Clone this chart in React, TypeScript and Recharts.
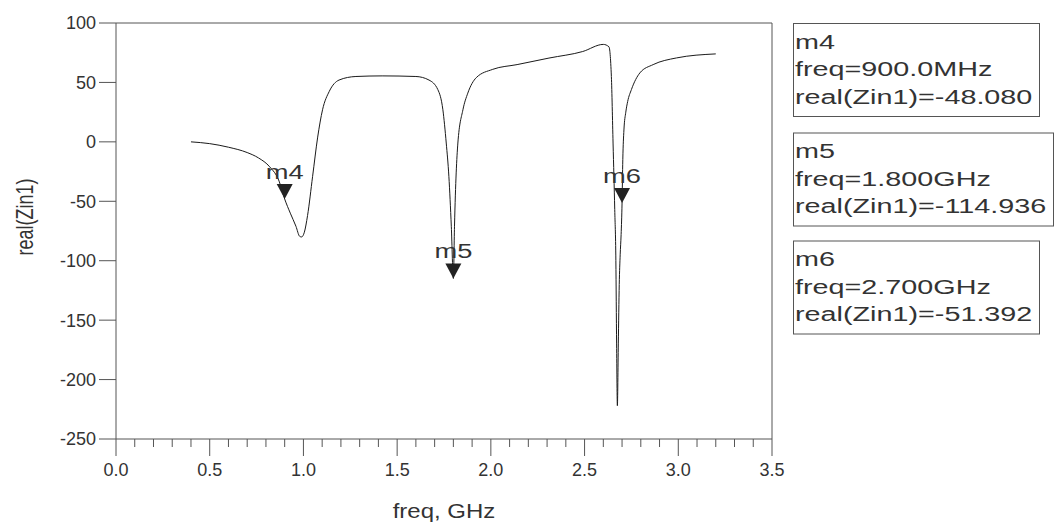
import { ComposedChart, Line, Scatter, XAxis, YAxis, ReferenceLine } from "recharts";

// real(Zin1) trace
const freqGHz = [
  0.4, 0.5, 0.6, 0.7, 0.76, 0.82, 0.87, 0.9, 0.93, 0.96, 0.98, 0.99, 1.005, 1.022,
  1.049, 1.076, 1.102, 1.138, 1.19, 1.28, 1.42, 1.6, 1.67, 1.717, 1.744, 1.762,
  1.776, 1.789, 1.8, 1.806, 1.824, 1.851, 1.877, 1.922, 2.01, 2.14, 2.31, 2.49,
  2.6, 2.63, 2.643, 2.652, 2.661, 2.667, 2.671, 2.675, 2.68, 2.685, 2.69, 2.695,
  2.7, 2.704, 2.71, 2.72, 2.73, 2.75, 2.795, 2.866, 2.99, 3.2,
];
const realZin1 = [
  0, -1.5, -4.5, -9, -13.5, -21, -33, -48.1, -60, -71, -79.5, -80, -76, -62,
  -29, 4, 27, 42.5, 52, 55, 55.5, 55, 52, 44, 27, -1,
  -29, -71, -114.9, -71, -1, 27, 41, 54, 61, 65, 70.5, 76,
  82, 80, 55, -1, -57, -100, -170, -222, -170, -120, -95, -78,
  -51.4, -15, 10, 25, 34, 44, 58, 65, 70.6, 74,
];

const markerNames = ["m4", "m5", "m6"];
const markerFreqGHz = [0.9, 1.8, 2.7];
const markerReal = [-48.08, -114.936, -51.392];
const markerFreqText = ["900.0MHz", "1.800GHz", "2.700GHz"];
const markerRealText = ["-48.080", "-114.936", "-51.392"];

const xTicks = [
  0, 0.1, 0.2, 0.3, 0.4, 0.5, 0.6, 0.7, 0.8, 0.9, 1, 1.1, 1.2, 1.3, 1.4, 1.5, 1.6, 1.7,
  1.8, 1.9, 2, 2.1, 2.2, 2.3, 2.4, 2.5, 2.6, 2.7, 2.8, 2.9, 3, 3.1, 3.2, 3.3, 3.4, 3.5,
];
const xMajorTicks = [0, 0.5, 1, 1.5, 2, 2.5, 3, 3.5];
const yTicks = [-250, -200, -150, -100, -50, 0, 50, 100];

const FONT = '"Liberation Sans", Arial, sans-serif';
const INK = "#333";
const AXIS = "#555";

const BOX_TOP = [23.5, 133, 241];
const BOX_W = [246, 260, 246];

const curve = freqGHz.map((f, i) => ({ f, v: realZin1[i] }));
const markers = markerNames.map((name, i) => ({ name, f: markerFreqGHz[i], v: markerReal[i] }));

function FreqTick({ x, y, payload }: any) {
  const v = payload.value as number;
  const major = xMajorTicks.includes(v);
  return (
    <g>
      <line x1={x} x2={x} y1={y} y2={y + (major ? 17 : 8)} stroke={AXIS} />
      {major && (
        <text x={x} y={y + 37} textAnchor="middle" fontSize={18} fill={INK} fontFamily={FONT}>
          {v.toFixed(1)}
        </text>
      )}
    </g>
  );
}

function MarkerShape({ cx, cy, payload }: any) {
  return (
    <g>
      <polygon points={`${cx - 8},${cy - 15} ${cx + 8},${cy - 15} ${cx},${cy}`} fill="#222" />
      <text
        transform={`translate(${cx},${cy - 20}) scale(1.3,1)`}
        textAnchor="middle"
        fontSize={21}
        fill={INK}
        fontFamily={FONT}
      >
        {payload.name}
      </text>
    </g>
  );
}

function XTitle(p: any) {
  const vb = p.viewBox ?? { x: 116, y: 439, width: 656, height: 60 };
  return (
    <text
      transform={`translate(${vb.x + vb.width / 2},${vb.y + 79}) scale(1.2,1)`}
      textAnchor="middle"
      fontSize={20}
      fill={INK}
      fontFamily={FONT}
    >
      freq, GHz
    </text>
  );
}

function YTitle(p: any) {
  const vb = p.viewBox ?? { x: 0, y: 23, width: 116, height: 416 };
  return (
    <text
      transform={`translate(${vb.x + 25},${vb.y + vb.height / 2 - 14}) rotate(-90) scale(1,1.3)`}
      textAnchor="middle"
      dominantBaseline="central"
      fontSize={18}
      fill={INK}
      fontFamily={FONT}
    >
      real(Zin1)
    </text>
  );
}

function Readouts() {
  return (
    <svg
      width={1056}
      height={526}
      style={{ position: "absolute", left: 0, top: 0, pointerEvents: "none" }}
    >
      {markerNames.map((name, i) => {
        const top = BOX_TOP[i];
        const lines = [name, `freq=${markerFreqText[i]}`, `real(Zin1)=${markerRealText[i]}`];
        return (
          <g key={name}>
            <rect x={793.5} y={top} width={BOX_W[i]} height={93} fill="none" stroke={AXIS} />
            {lines.map((t, j) => (
              <text
                key={j}
                transform={`translate(795,${top + 25 + j * 27.5}) scale(1.37,1)`}
                fontSize={21}
                fill={INK}
                fontFamily={FONT}
              >
                {t}
              </text>
            ))}
          </g>
        );
      })}
    </svg>
  );
}

export default function App() {
  return (
    <div style={{ position: "absolute", left: 0, top: 0, width: 1056, height: 526, background: "#fff" }}>
      <ComposedChart width={1056} height={526} margin={{ top: 23, right: 284, bottom: 27, left: 0 }}>
        <XAxis
          type="number"
          dataKey="f"
          domain={[0, 3.5]}
          ticks={xTicks}
          interval={0}
          tickSize={0}
          tickMargin={0}
          tickLine={false}
          tick={<FreqTick />}
          height={60}
          stroke={AXIS}
          label={XTitle}
        />
        <YAxis
          type="number"
          domain={[-250, 100]}
          ticks={yTicks}
          interval={0}
          width={116}
          tickSize={17}
          tickMargin={3}
          stroke={AXIS}
          tick={{ fontSize: 18, fill: INK, fontFamily: FONT }}
          label={YTitle}
        />
        <ReferenceLine y={100} stroke={AXIS} />
        <ReferenceLine x={3.5} stroke={AXIS} />
        <Line
          data={curve}
          dataKey="v"
          type="monotone"
          dot={false}
          stroke="#1a1a1a"
          strokeWidth={1}
          isAnimationActive={false}
        />
        <Scatter data={markers} dataKey="v" shape={<MarkerShape />} isAnimationActive={false} />
      </ComposedChart>
      <Readouts />
    </div>
  );
}
